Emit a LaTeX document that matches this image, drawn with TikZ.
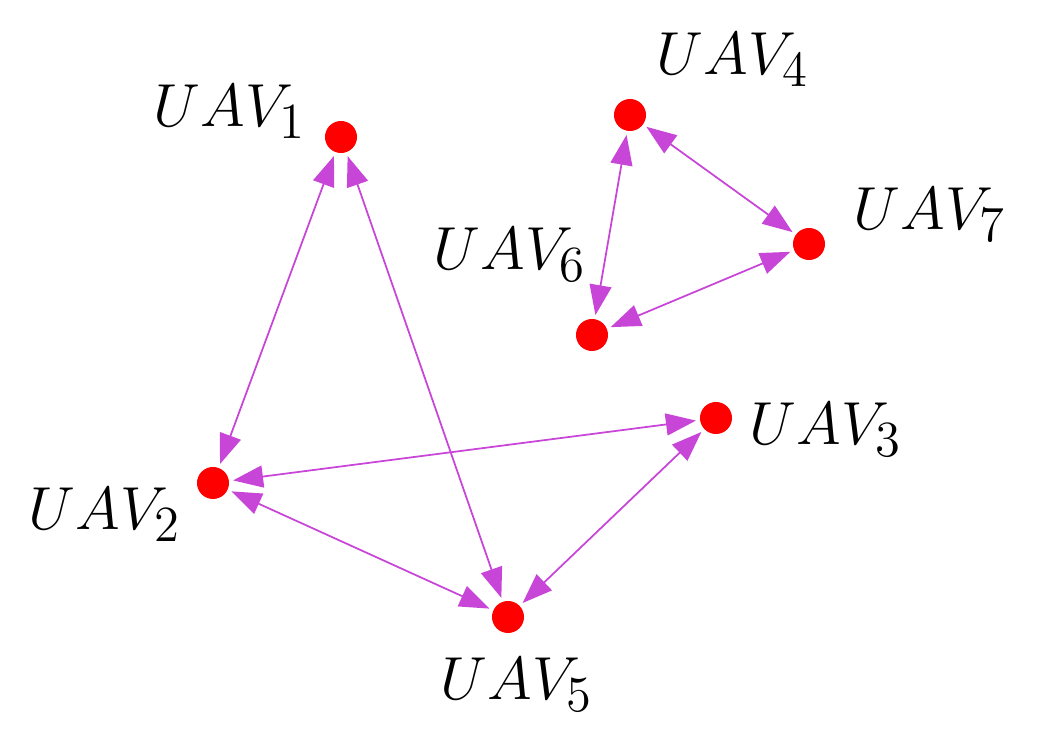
\documentclass[tikz,border=0pt]{standalone}
\usetikzlibrary{arrows.meta}
\definecolor{lnk}{RGB}{200,70,215}
\begin{document}
\begin{tikzpicture}[x=0.01cm,y=-0.01cm,
  uav/.style={circle,fill=red,minimum size=0.32cm,inner sep=0pt},
  lab/.style={font=\fontsize{19}{22}\selectfont},
  link/.style={draw=lnk,line width=0.5pt,{Triangle[length=0.3cm,width=0.22cm,fill=lnk]}-{Triangle[length=0.3cm,width=0.22cm,fill=lnk]},shorten <=1pt,shorten >=1pt}]
\useasboundingbox (0,0) rectangle (1038,749);
\node[uav] (u1) at (341,137) {};
\node[uav] (u2) at (213,483) {};
\node[uav] (u3) at (716,418) {};
\node[uav] (u4) at (630,115) {};
\node[uav] (u5) at (508,617) {};
\node[uav] (u6) at (592,335) {};
\node[uav] (u7) at (809,244) {};
\node[lab] (l1) at (230,112) {$UAV_1$};
\node[lab] (l2) at (105,515) {$UAV_2$};
\node[lab] (l3) at (826,430) {$UAV_3$};
\node[lab] (l4) at (733,60) {$UAV_4$};
\node[lab] (l5) at (517,685) {$UAV_5$};
\node[lab] (l6) at (510,255) {$UAV_6$};
\node[lab] (l7) at (930,215) {$UAV_7$};
\draw[link] (u1) -- (u2);
\draw[link] (u1) -- (u5);
\draw[link] (u2) -- (u3);
\draw[link] (u2) -- (u5);
\draw[link] (u3) -- (u5);
\draw[link] (u4) -- (u6);
\draw[link] (u4) -- (u7);
\draw[link] (u6) -- (u7);
\end{tikzpicture}
\end{document}
